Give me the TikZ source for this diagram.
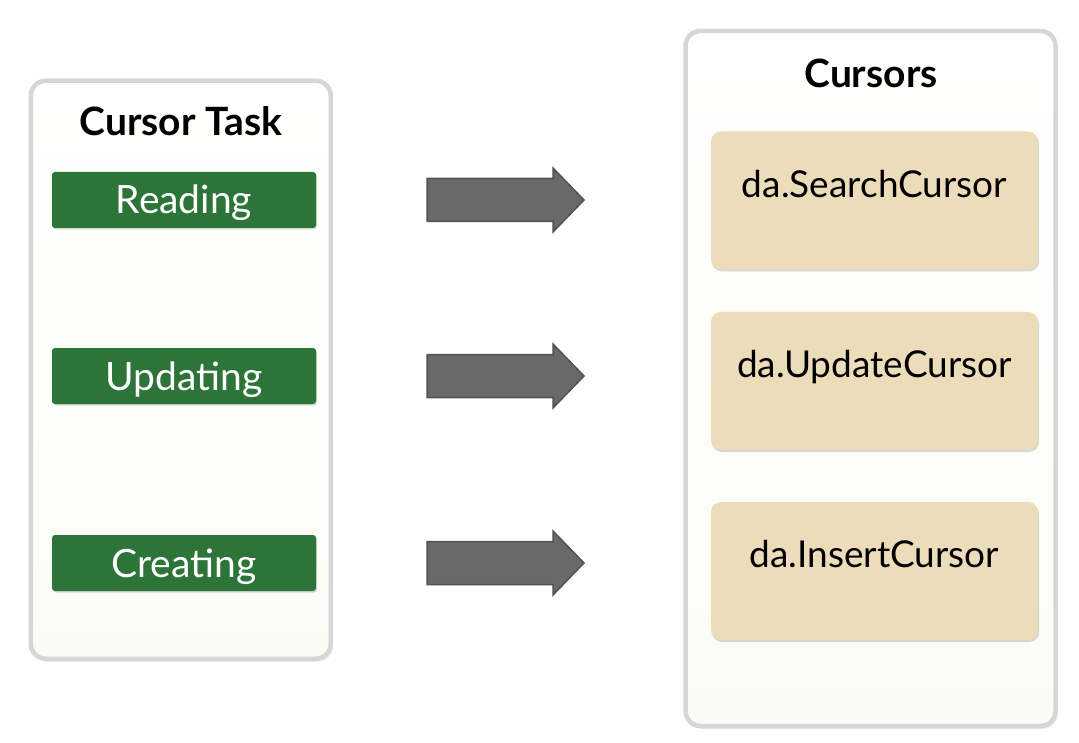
\documentclass[tikz,border=0pt]{standalone}
\usepackage{fontspec}
\setmainfont{Lato}
\usetikzlibrary{shadows}
\definecolor{taskgreen}{RGB}{45,116,56}
\definecolor{cursortan}{RGB}{236,220,185}
\definecolor{arrowgray}{RGB}{105,105,105}
\definecolor{panelbottom}{RGB}{251,251,246}
\tikzset{
	panel/.style={rounded corners=15pt, draw=black!16, line width=4.5pt, top color=white, bottom color=panelbottom,
		drop shadow={shadow xshift=2pt, shadow yshift=-3pt, opacity=0.15}},
	paneltitle/.style={anchor=base, font=\bfseries\fontsize{39}{42}\selectfont},
	taskbox/.style={fill=taskgreen, text=white, rounded corners=3pt, minimum width=264pt, minimum height=56pt,
		inner sep=0pt, text height=28pt, text depth=0pt, font=\fontsize{39}{43}\selectfont,
		drop shadow={shadow xshift=1pt, shadow yshift=-1.5pt, opacity=0.3}},
	cursorbox/.style={fill=cursortan, rounded corners=10pt, minimum width=327pt, minimum height=138pt,
		drop shadow={shadow xshift=1pt, shadow yshift=-2pt, opacity=0.3}},
	cursortext/.style={anchor=base, font=\fontsize{37}{40}\selectfont},
	blockarrow/.style={fill=arrowgray, draw=black!68, line width=1.5pt, line join=miter}
}
\begin{document}
\begin{tikzpicture}[x=1pt,y=-1pt]
	\useasboundingbox (0,0) rectangle (1079,743);
	% linke und rechte Tafel
	\node[panel, minimum width=300pt, minimum height=578pt] (task) at (180.75,369.75) {};
	\node[panel, minimum width=370pt, minimum height=695pt] (cursors) at (870.5,378.5) {};
	\node[paneltitle] (tasktitle) at (181,136) {Cursor Task};
	\node[paneltitle] (cursortitle) at (871,88) {Cursors};
	% Aufgaben
	\foreach \y/\name/\txt in {200/read/Reading, 376/update/Updating, 563/create/Creating}
		\node[taskbox] (\name) at (184,\y) {\txt};
	% Cursor-Kaesten
	\foreach \y/\name/\txt in {200.5/search/da.SearchCursor, 381/updcur/da.UpdateCursor, 571/insert/da.InsertCursor}{
		\node[cursorbox] (\name) at (874.5,\y) {};
		\node[cursortext] (\name txt) at ([yshift=-66pt]\name.north) {\txt};
	}
	% Blockpfeile
	\def\shaft{21.5} \def\head{32}
	\foreach \y in {200,376,563}
		\draw[blockarrow] (427,\y-\shaft) -- (553,\y-\shaft) -- (553,\y-\head) -- (584,\y) -- (553,\y+\head) -- (553,\y+\shaft) -- (427,\y+\shaft) -- cycle;
\end{tikzpicture}
\end{document}
